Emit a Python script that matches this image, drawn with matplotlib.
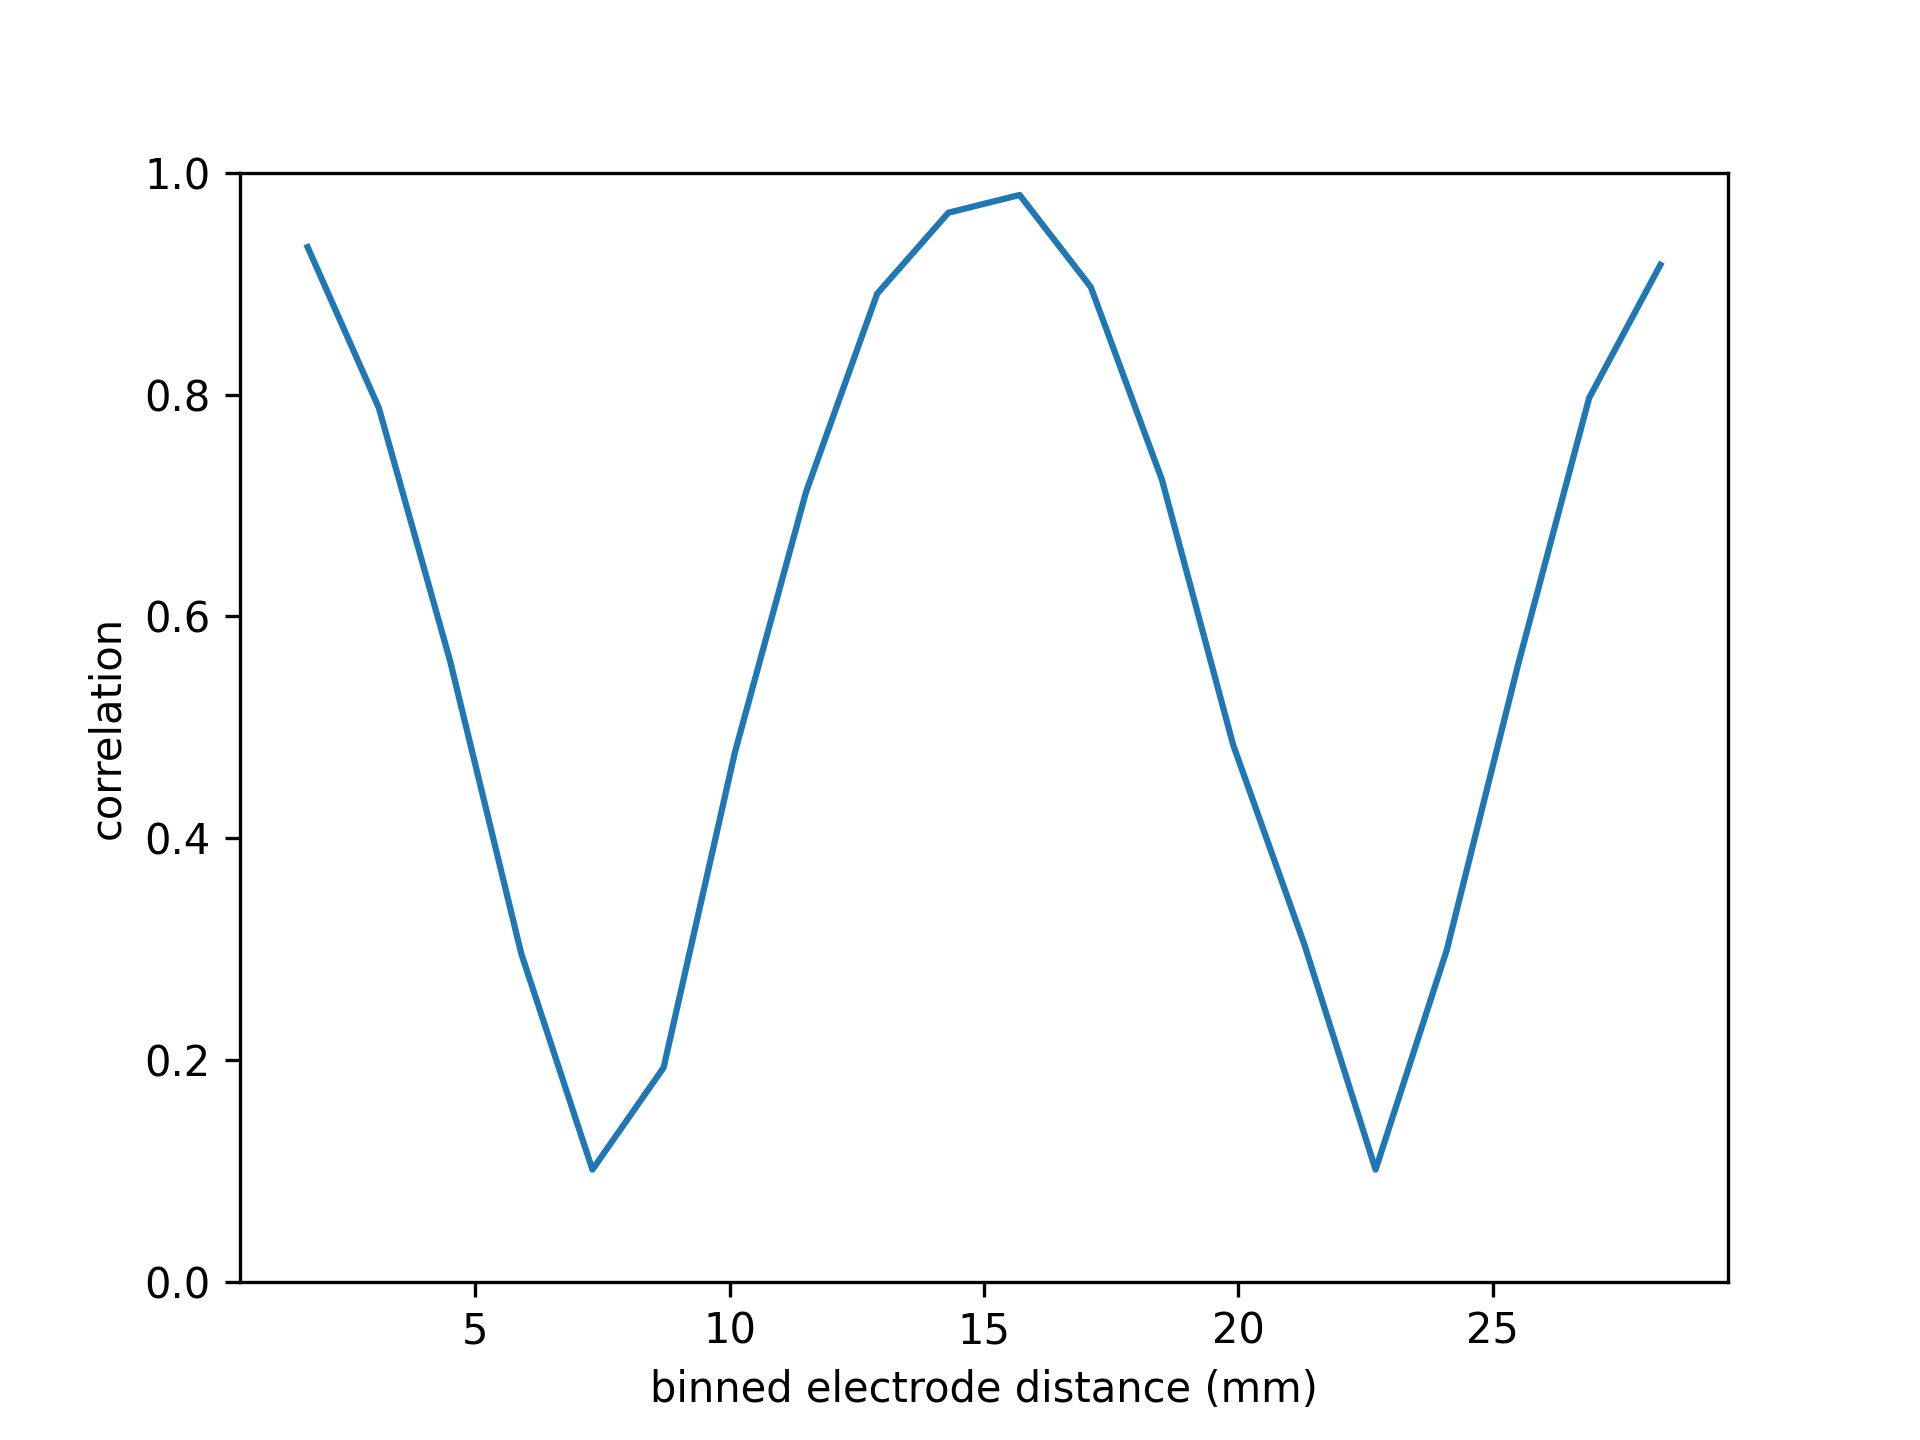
import matplotlib
matplotlib.use("Agg")
import matplotlib.pyplot as plt

# bin centres (mm) and mean correlation per bin
distance = [1.7, 3.1, 4.5, 5.9, 7.3, 8.7, 10.1, 11.5, 12.9, 14.3,
            15.7, 17.1, 18.5, 19.9, 21.3, 22.7, 24.1, 25.5, 26.9, 28.3]
correlation = [0.933, 0.788, 0.560, 0.296, 0.101, 0.193, 0.477, 0.712, 0.891, 0.964,
               0.980, 0.897, 0.723, 0.484, 0.304, 0.101, 0.299, 0.556, 0.797, 0.917]

fig = plt.figure(figsize=(6.4, 4.8), dpi=300)
plt.plot(distance, correlation)
plt.ylim(0, 1)
plt.xlabel("binned electrode distance (mm)")
plt.ylabel("correlation")
plt.savefig("out.png", dpi=300)
